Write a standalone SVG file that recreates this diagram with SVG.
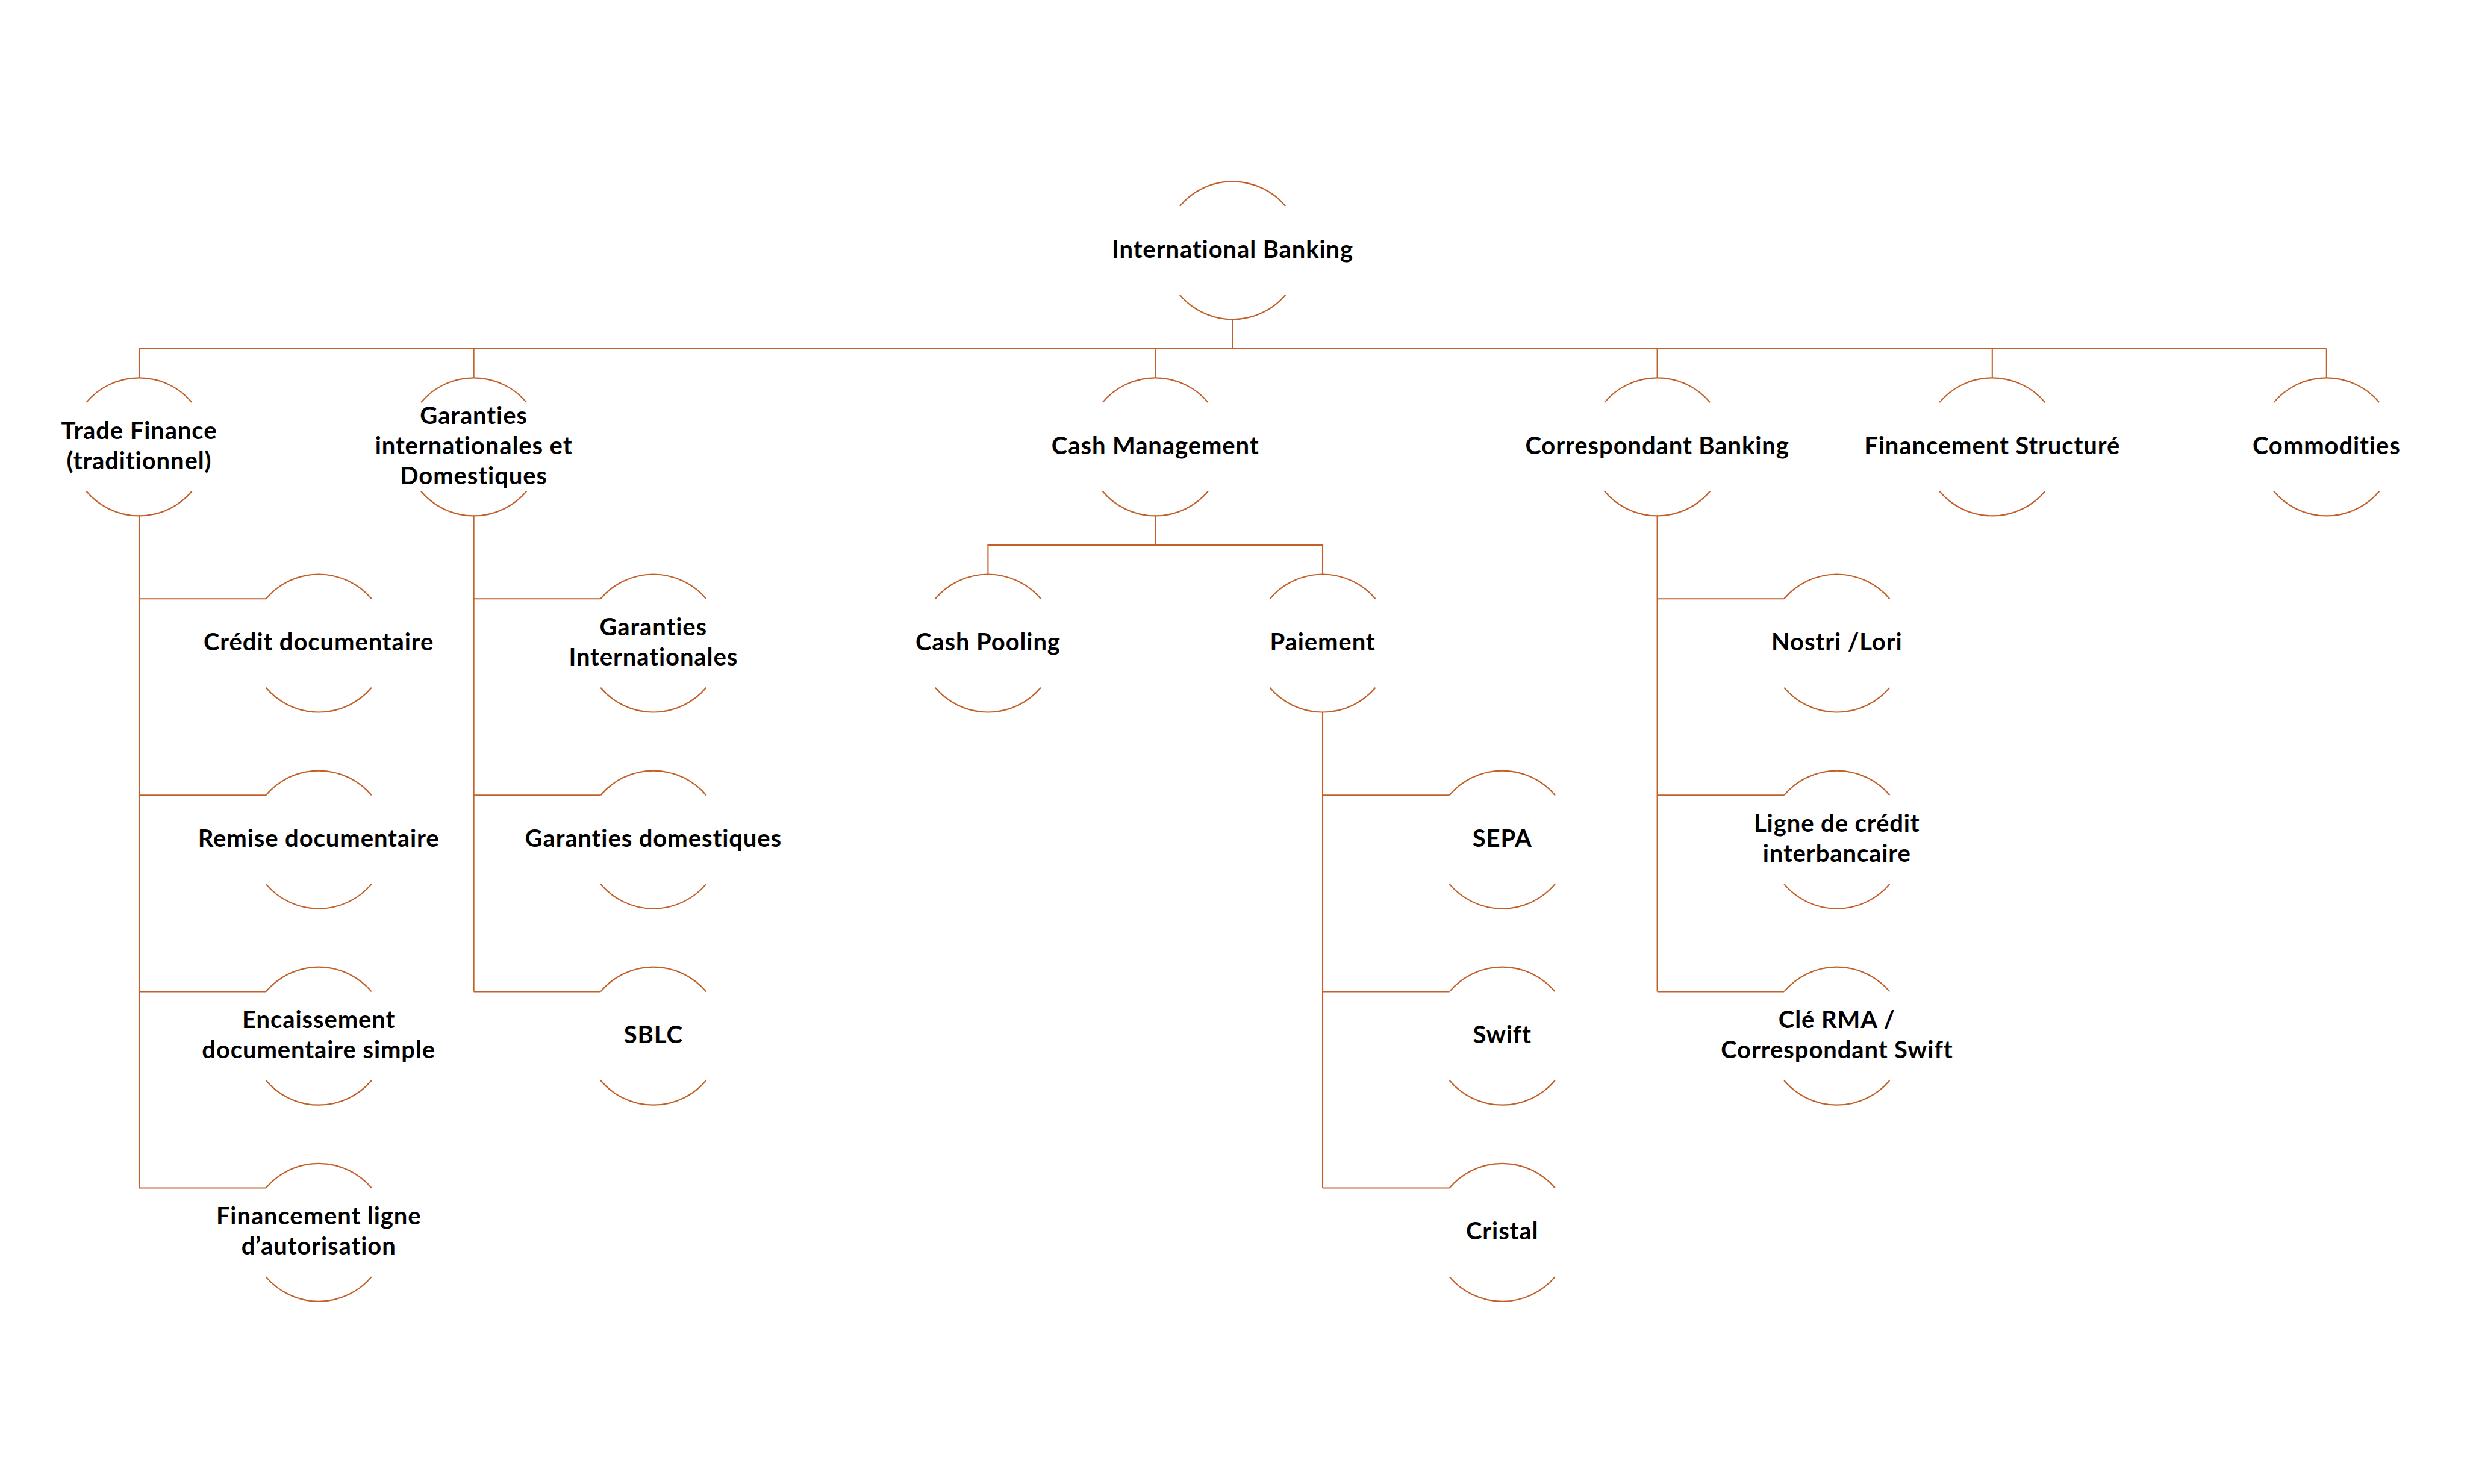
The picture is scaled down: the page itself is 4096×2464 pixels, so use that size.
<svg xmlns="http://www.w3.org/2000/svg" xmlns:xlink="http://www.w3.org/1999/xlink" width="4096" height="2464" viewBox="0 0 4096 2464">
<style>
.arc{fill:none;stroke:#C2602A;stroke-width:2.2;}
.conn{fill:none;stroke:#C2602A;stroke-width:2.1;}
.t{font-family:Lato,"Liberation Sans",sans-serif;font-weight:700;font-size:40px;letter-spacing:0.9px;font-variant-ligatures:none;font-feature-settings:"liga" 0,"dlig" 0;text-anchor:middle;fill:#000;}
</style>
<defs>
<g id="ring">
<path class="arc" d="M -87.6 -73.8 A 114.6 114.6 0 0 1 87.6 -73.8"/>
<path class="arc" d="M -87.6 73.8 A 114.6 114.6 0 0 0 87.6 73.8"/>
</g>
</defs>
<rect width="4096" height="2464" fill="#fff"/>
<g id="connectors">
<path class="conn" d="M2046.6 530.4 V579 M231 579 H3862.8"/>
<path class="conn" d="M231 579 V627.3 M786.6 579 V627.3 M1918.2 579 V627.3 M2751.6 579 V627.3 M3307.8 579 V627.3 M3862.8 579 V627.3"/>
<path class="conn" d="M231 856.5 V1972.5 M231 994.2 H441.6 M231 1320.3 H441.6 M231 1646.4 H441.6 M231 1972.5 H441.6"/>
<path class="conn" d="M786.6 856.5 V1646.4 M786.6 994.2 H997.2 M786.6 1320.3 H997.2 M786.6 1646.4 H997.2"/>
<path class="conn" d="M1918.2 856.5 V905 M1640.4 953.4 V905 H2196 V953.4"/>
<path class="conn" d="M2196 1182.6 V1972.5 M2196 1320.3 H2406.6 M2196 1646.4 H2406.6 M2196 1972.5 H2406.6"/>
<path class="conn" d="M2751.6 856.5 V1646.4 M2751.6 994.2 H2962.2 M2751.6 1320.3 H2962.2 M2751.6 1646.4 H2962.2"/>
</g>
<g id="root"><use xlink:href="#ring" x="2046.6" y="415.8"/><text class="t" x="2046.6" y="427.8">International Banking</text></g>
<g id="trade-finance"><use xlink:href="#ring" x="231" y="741.9"/><text class="t" x="231" y="728.8">Trade Finance</text><text class="t" x="231" y="779">(traditionnel)</text></g>
<g id="garanties"><use xlink:href="#ring" x="786.6" y="741.9"/><text class="t" x="786.6" y="703.7">Garanties</text><text class="t" x="786.6" y="753.9">internationales et</text><text class="t" x="786.6" y="804.1">Domestiques</text></g>
<g id="cash-management"><use xlink:href="#ring" x="1918.2" y="741.9"/><text class="t" x="1918.2" y="753.9">Cash Management</text></g>
<g id="correspondant-banking"><use xlink:href="#ring" x="2751.6" y="741.9"/><text class="t" x="2751.6" y="753.9">Correspondant Banking</text></g>
<g id="financement-structure"><use xlink:href="#ring" x="3307.8" y="741.9"/><text class="t" x="3307.8" y="753.9">Financement Structuré</text></g>
<g id="commodities"><use xlink:href="#ring" x="3862.8" y="741.9"/><text class="t" x="3862.8" y="753.9">Commodities</text></g>
<g id="credit-documentaire"><use xlink:href="#ring" x="529.2" y="1068"/><text class="t" x="529.2" y="1080">Crédit documentaire</text></g>
<g id="remise-documentaire"><use xlink:href="#ring" x="529.2" y="1394.1"/><text class="t" x="529.2" y="1406.1">Remise documentaire</text></g>
<g id="encaissement"><use xlink:href="#ring" x="529.2" y="1720.2"/><text class="t" x="529.2" y="1707.1">Encaissement</text><text class="t" x="529.2" y="1757.3">documentaire simple</text></g>
<g id="financement-ligne"><use xlink:href="#ring" x="529.2" y="2046.3"/><text class="t" x="529.2" y="2033.2">Financement ligne</text><text class="t" x="529.2" y="2083.4">d’autorisation</text></g>
<g id="garanties-internationales"><use xlink:href="#ring" x="1084.8" y="1068"/><text class="t" x="1084.8" y="1054.9">Garanties</text><text class="t" x="1084.8" y="1105.1">Internationales</text></g>
<g id="garanties-domestiques"><use xlink:href="#ring" x="1084.8" y="1394.1"/><text class="t" x="1084.8" y="1406.1">Garanties domestiques</text></g>
<g id="sblc"><use xlink:href="#ring" x="1084.8" y="1720.2"/><text class="t" x="1084.8" y="1732.2">SBLC</text></g>
<g id="cash-pooling"><use xlink:href="#ring" x="1640.4" y="1068"/><text class="t" x="1640.4" y="1080">Cash Pooling</text></g>
<g id="paiement"><use xlink:href="#ring" x="2196" y="1068"/><text class="t" x="2196" y="1080">Paiement</text></g>
<g id="sepa"><use xlink:href="#ring" x="2494.2" y="1394.1"/><text class="t" x="2494.2" y="1406.1">SEPA</text></g>
<g id="swift"><use xlink:href="#ring" x="2494.2" y="1720.2"/><text class="t" x="2494.2" y="1732.2">Swift</text></g>
<g id="cristal"><use xlink:href="#ring" x="2494.2" y="2046.3"/><text class="t" x="2494.2" y="2058.3">Cristal</text></g>
<g id="nostri-lori"><use xlink:href="#ring" x="3049.8" y="1068"/><text class="t" x="3049.8" y="1080">Nostri /Lori</text></g>
<g id="ligne-credit"><use xlink:href="#ring" x="3049.8" y="1394.1"/><text class="t" x="3049.8" y="1381">Ligne de crédit</text><text class="t" x="3049.8" y="1431.2">interbancaire</text></g>
<g id="cle-rma"><use xlink:href="#ring" x="3049.8" y="1720.2"/><text class="t" x="3049.8" y="1707.1">Clé RMA /</text><text class="t" x="3049.8" y="1757.3">Correspondant Swift</text></g>
</svg>
